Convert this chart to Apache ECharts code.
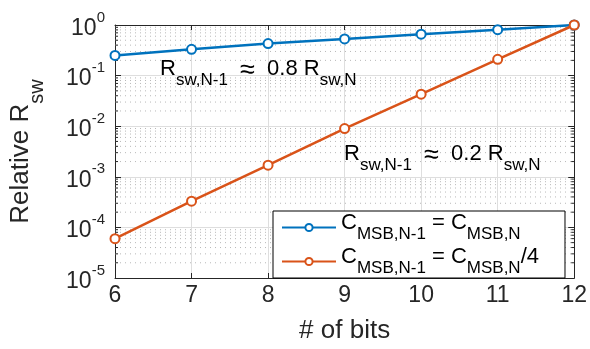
<!DOCTYPE html>
<html>
<head>
<meta charset="utf-8">
<script src="https://cdn.jsdelivr.net/npm/echarts@6/dist/echarts.min.js"></script>
<style>html,body{margin:0;padding:0;background:#fff}#c{width:590px;height:349px}</style>
</head>
<body>
<div id="c"></div>
<script>
// ---- data ----
var bits = [6, 7, 8, 9, 10, 11, 12];
var sameCap = [0.25, 0.33, 0.43, 0.53, 0.66, 0.81, 1.0];
var quarterCap = [6.0e-5, 3.3e-4, 1.7e-3, 9.0e-3, 0.043, 0.21, 1.0];
var seriesNames = ['same', 'quarter'];
var legendLabels = {
  same: '{n|C}{s|MSB,N-1}{n| = C}{s|MSB,N}',
  quarter: '{n|C}{s|MSB,N-1}{n| = C}{s|MSB,N}{n|/4}'
};
var xTicks = [6, 7, 8, 9, 10, 11, 12];
var yDecades = [-5, -4, -3, -2, -1, 0];
var minorMult = [2, 3, 4, 5, 6, 7, 8, 9];

var FONT = 'Liberation Sans';
var AX = '#262626';

var minorVals = [];
yDecades.slice(0, -1).forEach(function (d) {
  minorMult.forEach(function (m) { minorVals.push([bits[0], m * Math.pow(10, d)]); });
});

function zip(xs, ys) { return xs.map(function (x, i) { return [x, ys[i]]; }); }

var subRich = {
  n: { fontFamily: FONT, fontSize: 22, color: '#000', verticalAlign: 'top', lineHeight: 31 },
  a: { fontFamily: FONT, fontSize: 27, color: '#000', verticalAlign: 'top', lineHeight: 31, padding: [-1, 0, 0, 0] },
  s: { fontFamily: FONT, fontSize: 17, color: '#000', verticalAlign: 'bottom', lineHeight: 31 }
};

var chart = echarts.init(document.getElementById('c'), null, { renderer: 'canvas' });
chart.setOption({
  animation: false,
  backgroundColor: '#fff',
  grid: { left: 110, right: 15, top: 25, bottom: 57, containLabel: false },
  xAxis: [{
    type: 'value', min: xTicks[0], max: xTicks[xTicks.length - 1], interval: 1,
    name: '# of bits', nameLocation: 'middle', nameGap: 40,
    nameTextStyle: { fontFamily: FONT, fontSize: 26, color: AX },
    axisLine: { lineStyle: { color: AX, width: 1 } },
    axisTick: { inside: true, length: 5, lineStyle: { color: AX } },
    axisLabel: { fontFamily: FONT, fontSize: 23, color: AX, margin: 6 },
    splitLine: { show: true, lineStyle: { color: '#dedede', width: 1 } }
  }, {
    type: 'value', position: 'top', min: xTicks[0], max: xTicks[xTicks.length - 1], interval: 1,
    axisLine: { show: true, lineStyle: { color: AX, width: 1 } },
    axisTick: { inside: true, length: 5, lineStyle: { color: AX } },
    axisLabel: { show: false }, splitLine: { show: false }
  }],
  yAxis: [{
    type: 'log', logBase: 10, min: Math.pow(10, yDecades[0]), max: Math.pow(10, yDecades[yDecades.length - 1]),
    name: '{n|Relative R}{s|sw}', nameLocation: 'middle', nameGap: 68, nameRotate: 90,
    nameTextStyle: {
      rich: {
        n: { fontFamily: FONT, fontSize: 26, color: AX, verticalAlign: 'top', lineHeight: 39 },
        s: { fontFamily: FONT, fontSize: 20, color: AX, verticalAlign: 'bottom', lineHeight: 39 }
      }
    },
    axisLine: { show: true, lineStyle: { color: AX, width: 1 } },
    axisTick: { inside: true, length: 6, lineStyle: { color: AX } },
    axisLabel: {
      margin: 10,
      formatter: function (v) {
        var e = Math.round(Math.log10(v));
        return '{b|10}{e|' + e + '}';
      },
      rich: {
        b: { fontFamily: FONT, fontSize: 23, color: AX, verticalAlign: 'bottom', lineHeight: 30 },
        e: { fontFamily: FONT, fontSize: 15, color: AX, verticalAlign: 'top', lineHeight: 30 }
      }
    },
    splitLine: { show: true, lineStyle: { color: '#dedede', width: 1 } }
  }, {
    type: 'log', logBase: 10, position: 'right',
    min: Math.pow(10, yDecades[0]), max: Math.pow(10, yDecades[yDecades.length - 1]),
    axisLine: { show: true, lineStyle: { color: AX, width: 1 } },
    axisTick: { inside: true, length: 6, lineStyle: { color: AX } },
    axisLabel: { show: false }, splitLine: { show: false }
  }],
  legend: {
    left: 273, top: 211, orient: 'vertical',
    data: seriesNames,
    backgroundColor: '#fff', borderColor: '#000', borderWidth: 1, borderRadius: 0,
    padding: [1, 26, 1, 8], itemGap: 3, itemWidth: 54, itemHeight: 9,
    formatter: function (name) { return legendLabels[name]; },
    textStyle: { rich: subRich }
  },
  series: [{
    type: 'custom', silent: true, z: 1, clip: false,
    xAxisIndex: 0, yAxisIndex: 0,
    data: minorVals,
    renderItem: function (params, api) {
      var p = api.coord([api.value(0), api.value(1)]);
      var cs = params.coordSys;
      return {
        type: 'group', children: [
          { type: 'line', shape: { x1: cs.x, y1: p[1], x2: cs.x + cs.width, y2: p[1] },
            style: { stroke: '#b8b8b8', lineWidth: 1, lineDash: [1, 4] } },
          { type: 'line', shape: { x1: cs.x, y1: p[1], x2: cs.x + 3, y2: p[1] },
            style: { stroke: AX, lineWidth: 1 } },
          { type: 'line', shape: { x1: cs.x + cs.width - 3, y1: p[1], x2: cs.x + cs.width, y2: p[1] },
            style: { stroke: AX, lineWidth: 1 } }
        ]
      };
    }
  }, {
    name: seriesNames[0], type: 'line', data: zip(bits, sameCap), z: 3,
    symbol: 'emptyCircle', symbolSize: 9, color: '#0072BD',
    lineStyle: { width: 2.5, color: '#0072BD' },
    itemStyle: { borderWidth: 2, color: '#0072BD', borderColor: '#0072BD' }
  }, {
    name: seriesNames[1], type: 'line', data: zip(bits, quarterCap), z: 4,
    symbol: 'emptyCircle', symbolSize: 9, color: '#D95319',
    lineStyle: { width: 2.5, color: '#D95319' },
    itemStyle: { borderWidth: 2, color: '#D95319', borderColor: '#D95319' }
  }],
  graphic: [{
    type: 'text', left: 160, top: 57, z: 10,
    style: { text: '{n|R}{s|sw,N-1}{n|  }{a|\u2248}{n|  0.8 R}{s|sw,N}', rich: subRich }
  }, {
    type: 'text', left: 344, top: 142, z: 10,
    style: { text: '{n|R}{s|sw,N-1}{n|  }{a|\u2248}{n|  0.2 R}{s|sw,N}', rich: subRich }
  }]
});
</script>
</body>
</html>
